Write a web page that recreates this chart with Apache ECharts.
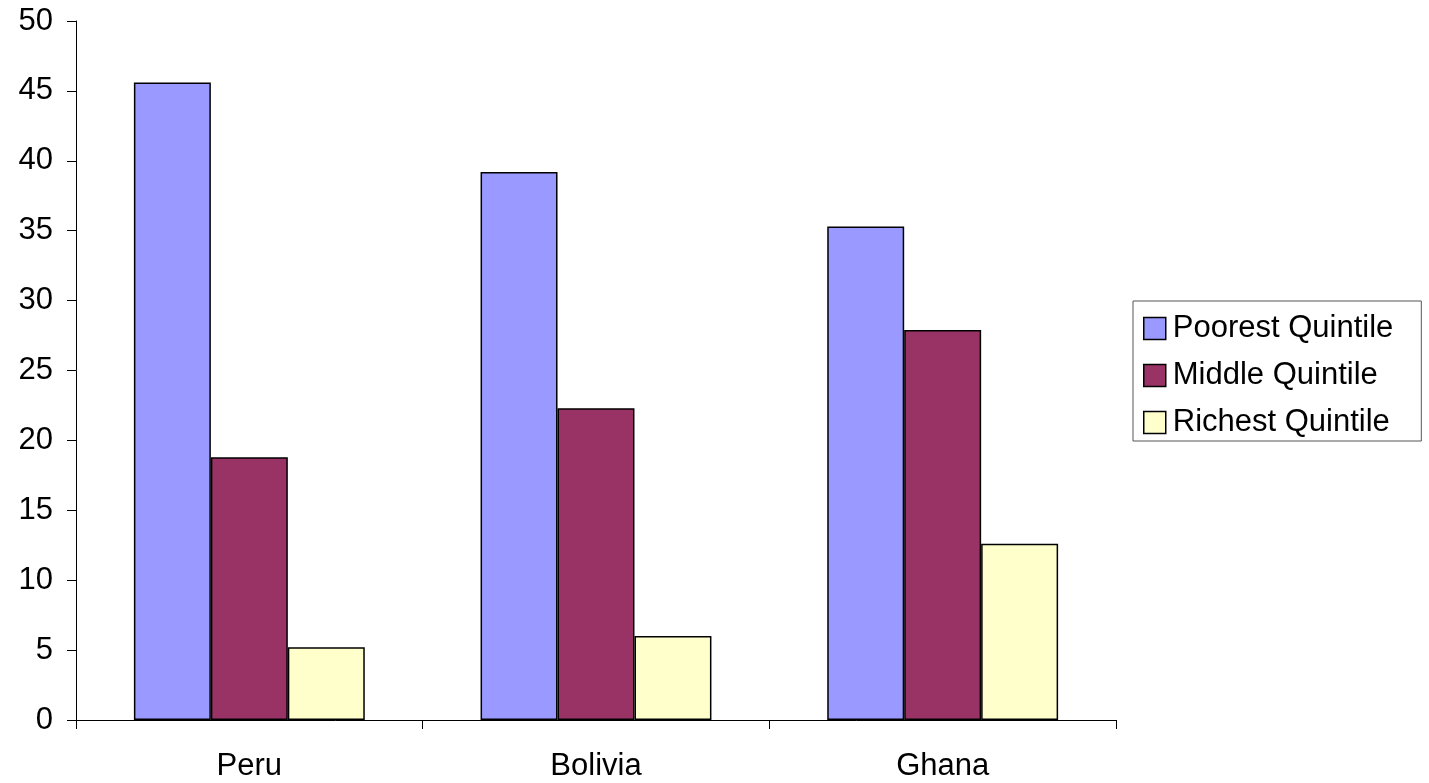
<!DOCTYPE html>
<html><head><meta charset="utf-8">
<script src="https://cdn.jsdelivr.net/npm/echarts@6/dist/echarts.min.js"></script>
<style>html,body{margin:0;padding:0;background:#fff}#c{width:1429px;height:783px}</style>
</head><body><div id="c"></div>
<script>
const categories = ['Peru', 'Bolivia', 'Ghana'];
const poorest = [45.6, 39.2, 35.3];
const middle = [18.8, 22.3, 27.9];
const richest = [5.2, 6.0, 12.6];
const seriesNames = ['Poorest Quintile', 'Middle Quintile', 'Richest Quintile'];
const colors = ['#9999FF', '#993366', '#FFFFCC'];

const font = 'Liberation Sans, Arial, sans-serif';
const fs = 31;
const chart = echarts.init(document.getElementById('c'), null, {renderer: 'canvas'});
const mk = (name, data, color) => ({
  name, type: 'bar', data, barGap: '0%', barCategoryGap: '33.4%',
  itemStyle: {color, borderColor: '#000', borderWidth: 1.5}
});
chart.setOption({
  animation: false,
  backgroundColor: '#fff',
  grid: {left: 76, right: 313, top: 21, bottom: 63, containLabel: false},
  legend: {
    orient: 'vertical', left: 1133, top: 301,
    padding: [12, 28, 3, 10],
    itemWidth: 22, itemHeight: 22, itemGap: 16,
    borderColor: '#555', borderWidth: 1,
    icon: 'rect',
    textStyle: {fontFamily: font, fontSize: fs, color: '#000', padding: [0, 0, 0, 2]},
    itemStyle: {borderColor: '#000', borderWidth: 1.5},
    data: seriesNames
  },
  xAxis: {
    type: 'category', data: categories,
    axisLine: {lineStyle: {color: '#000', width: 1}},
    axisTick: {show: true, length: 9, lineStyle: {color: '#000'}},
    axisLabel: {fontFamily: font, fontSize: fs, color: '#000', margin: 31}
  },
  yAxis: {
    type: 'value', min: 0, max: 50, interval: 5,
    axisLine: {show: true, lineStyle: {color: '#000', width: 1}},
    axisTick: {show: true, length: 9, lineStyle: {color: '#000'}},
    splitLine: {show: false},
    axisLabel: {fontFamily: font, fontSize: fs, color: '#000', margin: 23}
  },
  series: [
    mk(seriesNames[0], poorest, colors[0]),
    mk(seriesNames[1], middle, colors[1]),
    mk(seriesNames[2], richest, colors[2])
  ]
});
</script></body></html>
